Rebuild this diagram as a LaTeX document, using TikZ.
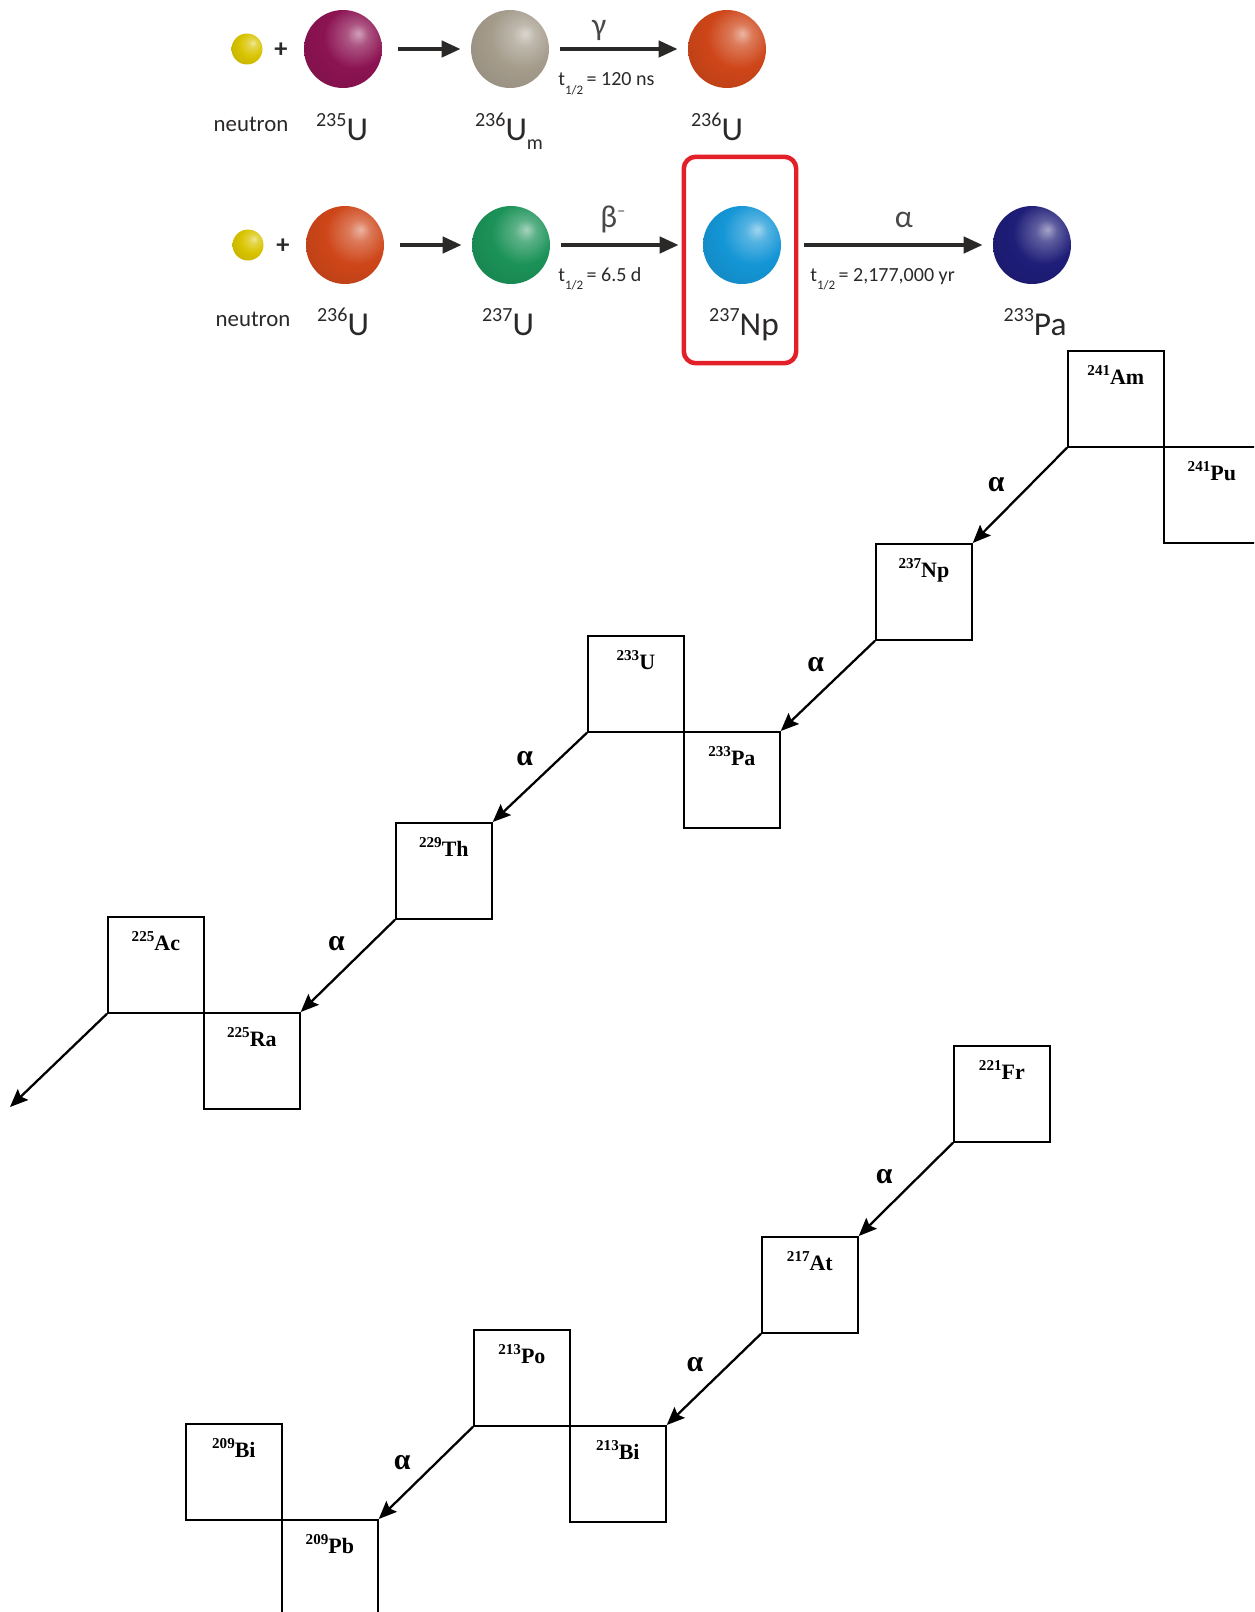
\documentclass[tikz,border=0pt]{standalone}
\usepackage{fontspec}
\usepackage{graphicx}
\setmainfont{Liberation Serif}
\newfontfamily\topfont{Carlito}
\usetikzlibrary{arrows.meta, positioning}

\definecolor{ink}{HTML}{2B2828}
\definecolor{hilite}{HTML}{E3202A}
\definecolor{cNeutron}{HTML}{D9C400}
\definecolor{cUfive}{HTML}{8C1352}
\definecolor{cUmeta}{HTML}{A59C8C}
\definecolor{cUsix}{HTML}{CE4619}
\definecolor{cUseven}{HTML}{1B9258}
\definecolor{cNp}{HTML}{1496D6}
\definecolor{cPa}{HTML}{1E1D78}

% shiny sphere, light spot up and to the right
\newcommand\declareball[2]{%
  \pgfdeclareradialshading{#1}{\pgfpoint{10bp}{10bp}}{%
    color(0bp)=(#2!40!white); color(7bp)=(#2!72!white); color(20bp)=(#2);
    color(42bp)=(#2!88!black); color(60bp)=(#2!72!black); color(80bp)=(#2!72!black)}}
\declareball{ballNeutron}{cNeutron}
\declareball{ballUfive}{cUfive}
\declareball{ballUmeta}{cUmeta}
\declareball{ballUsix}{cUsix}
\declareball{ballUseven}{cUseven}
\declareball{ballNp}{cNp}
\declareball{ballPa}{cPa}

% mass number up front
\newcommand\iso[2]{\raisebox{0.27cm}{\fontsize{11.4}{12}\selectfont #1}#2}
\newcommand\nuc[2]{\raisebox{0.17cm}{\fontsize{8.6}{9}\selectfont #1}#2}
\newcommand\thalf[1]{t\raisebox{-0.17cm}{\fontsize{7.4}{8}\selectfont 1/2}\,#1}

\begin{document}
\begin{tikzpicture}[x=0.02cm, y=-0.02cm,
  ball/.style={circle, inner sep=0pt, minimum size=1.56cm, shading=#1},
  smallball/.style={minimum size=0.62cm},
  plus/.style={font=\topfont\bfseries\fontsize{15}{15}\selectfont, text=ink},
  caption/.style={font=\topfont\fontsize{13}{14}\selectfont, text=ink, anchor=base},
  iso/.style={font=\topfont\fontsize{19}{20}\selectfont, text=ink, anchor=base, inner sep=0pt},
  react/.style={-{Triangle[length=0.38cm,width=0.32cm]}, line width=0.085cm, draw=ink,
    shorten <=0.22cm, shorten >=0.2cm},
  ray/.style={font=\topfont\fontsize{18}{18}\selectfont, text=ink!85, inner sep=0pt},
  hl/.style={font=\topfont\fontsize{11.4}{12}\selectfont, text=ink, anchor=base west, inner sep=0pt},
  cell/.style={draw, line width=1pt, minimum size=1.92cm, inner sep=0pt, anchor=north west,
    text height=0.67cm, text depth=1.25cm, font=\bfseries\fontsize{12.5}{13}\selectfont},
  decay/.style={-{Stealth[length=0.36cm,width=0.3cm,inset=0.06cm]}, line width=1.3pt},
  alab/.style={font=\bfseries\fontsize{17}{17}\selectfont, shift={(-17,-17)}}]

  \useasboundingbox (0,0) rectangle (1254,1612);
  \clip (0,0) rectangle (1254,1612);

  % capture of a neutron by 235U
  \node[ball=ballNeutron, smallball] (nA)   at (247,49) {};
  \node[plus]                        (pA)   at (281,50) {+};
  \node[ball=ballUfive]              (uA)   at (343,49) {};
  \node[ball=ballUmeta]              (umA)  at (510,49) {};
  \node[ball=ballUsix]               (usA)  at (727,49) {};

  \draw[react, shorten <=0.32cm] (uA) -- (umA);
  \draw[react] (umA) -- node[ray, pos=.36, above=0.12cm] (gam) {γ} (usA);
  \node[hl] (tA) at (558,86) {\thalf{= 120 ns}};

  \node[caption] (lnA)  at (251,132) {neutron};
  \node[iso]     (luA)  at (342,140) {\iso{235}{U}};
  \node[iso]     (lumA) at (509,140) {\iso{236}{U}\raisebox{-0.2cm}{\fontsize{11.4}{12}\selectfont m}};
  \node[iso]     (lusA) at (717,140) {\iso{236}{U}};

  % capture by 236U, then two decays
  \node[ball=ballNeutron, smallball] (nB)   at (248,245) {};
  \node[plus]                        (pB)   at (283,246) {+};
  \node[ball=ballUsix]               (uB)   at (345,245) {};
  \node[ball=ballUseven]             (usB)  at (511,245) {};
  \node[ball=ballNp]                 (npB)  at (742,245) {};
  \node[ball=ballPa]                 (paB)  at (1032,245) {};

  \draw[react, shorten <=0.32cm] (uB) -- (usB);
  \draw[react, shorten >=0.48cm] (usB) -- node[ray, pos=.41, above=0.2cm] (bet) {β\raisebox{0.22cm}{\fontsize{9}{9}\selectfont −}} (npB);
  \draw[react, shorten <=0.46cm] (npB) -- node[ray, pos=.58, above=0.3cm] (alp) {α} (paB);
  \node[hl] (tB) at (558,281) {\thalf{= 6.5 d}};
  \node[hl] (tC) at (810,281) {\thalf{= 2,177,000 yr}};

  \node[caption] (lnB)  at (253,326) {neutron};
  \node[iso]     (luB)  at (343,335) {\iso{236}{U}};
  \node[iso]     (lusB) at (508,335) {\iso{237}{U}};
  \node[iso]     (lnpB) at (744,335) {\iso{237}{Np}};
  \node[iso]     (lpaB) at (1035,335) {\iso{233}{Pa}};

  \node[draw=hilite, line width=0.09cm, rounded corners=0.24cm,
        minimum width=2.25cm, minimum height=4.13cm] (focus) at (740,260) {};

  % neptunium series
  \node[cell] (am)  at (1067,350) {\nuc{241}{Am}};
  \node[cell] (pu)  at (1163,446) {\nuc{241}{Pu}};
  \node[cell] (np)  at (875,543)  {\nuc{237}{Np}};
  \node[cell] (ua)  at (587,635)  {\nuc{233}{U}};
  \node[cell] (pa)  at (683,731)  {\nuc{233}{Pa}};
  \node[cell] (th)  at (395,822)  {\nuc{229}{Th}};
  \node[cell] (ac)  at (107,916)  {\nuc{225}{Ac}};
  \node[cell] (ra)  at (203,1012) {\nuc{225}{Ra}};
  \coordinate (out) at (10,1107);

  \node[cell] (fr)  at (953,1045) {\nuc{221}{Fr}};
  \node[cell] (ast) at (761,1236) {\nuc{217}{At}};
  \node[cell] (po)  at (473,1329) {\nuc{213}{Po}};
  \node[cell] (bia) at (569,1425) {\nuc{213}{Bi}};
  \node[cell] (bib) at (185,1423) {\nuc{209}{Bi}};
  \node[cell] (pb)  at (281,1519) {\nuc{209}{Pb}};

  \draw[decay] (am.south west) -- node[alab, pos=.57] {α} (np.north east);
  \draw[decay] (np.south west) -- node[alab, pos=.45] {α} (pa.north east);
  \draw[decay] (ua.south west) -- node[alab, pos=.48] {α} (th.north east);
  \draw[decay] (th.south west) -- node[alab, pos=.44] {α} (ra.north east);
  \draw[decay] (ac.south west) -- (out);

  \draw[decay] (fr.south west)  -- node[alab, pos=.55] {α} (ast.north east);
  \draw[decay] (ast.south west) -- node[alab, pos=.52] {α} (bia.north east);
  \draw[decay] (po.south west)  -- node[alab, pos=.57] {α} (pb.north east);

\end{tikzpicture}
\end{document}
